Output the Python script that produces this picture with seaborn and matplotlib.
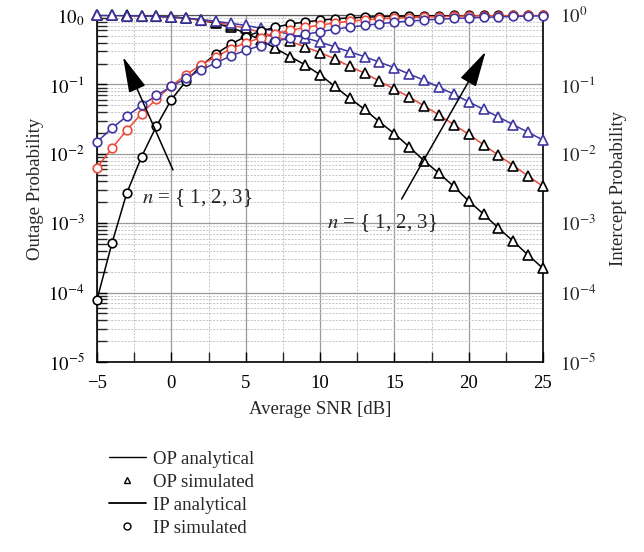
import numpy as np
import pandas as pd
import matplotlib
matplotlib.use("Agg")
import matplotlib.pyplot as plt
from matplotlib.lines import Line2D
from matplotlib.ticker import LogLocator, FixedLocator, NullFormatter, FixedFormatter
import seaborn as sns

snr_db = list(range(-5, 26))

op_n1 = [0.993, 0.991, 0.984, 0.975, 0.962, 0.938, 0.902, 0.841, 0.759, 0.661, 0.550,
         0.437, 0.331, 0.251, 0.191, 0.138, 0.0933, 0.0631, 0.0437, 0.0288, 0.0195,
         0.0126, 0.00794, 0.00525, 0.00339, 0.00209, 0.00135, 0.000851, 0.000550,
         0.000347, 0.000224]
op_n2 = [0.993, 0.989, 0.982, 0.971, 0.953, 0.927, 0.891, 0.841, 0.785, 0.716, 0.646,
         0.562, 0.490, 0.417, 0.347, 0.288, 0.234, 0.182, 0.145, 0.112, 0.0851,
         0.0661, 0.0490, 0.0363, 0.0263, 0.0191, 0.0135, 0.00955, 0.00676, 0.00479,
         0.00339]
op_n3 = [0.993, 0.989, 0.982, 0.971, 0.955, 0.933, 0.902, 0.861, 0.813, 0.759, 0.708,
         0.646, 0.589, 0.525, 0.468, 0.407, 0.347, 0.295, 0.251, 0.209, 0.174,
         0.141, 0.115, 0.0912, 0.0724, 0.0562, 0.0437, 0.0339, 0.0263, 0.0204, 0.0158]
ip_n1 = [7.9e-5, 5.1e-4, 2.7e-3, 9.1e-3, 0.0251, 0.0603, 0.112, 0.186, 0.275, 0.380,
         0.490, 0.582, 0.668, 0.741, 0.794, 0.841, 0.881, 0.908, 0.929, 0.946, 0.959,
         0.968, 0.975, 0.982, 0.986, 0.989, 0.991, 0.993, 0.994, 0.995, 0.997]
ip_n2 = [0.00631, 0.0120, 0.0219, 0.0380, 0.0617, 0.0955, 0.138, 0.191, 0.251, 0.324,
         0.398, 0.468, 0.537, 0.603, 0.661, 0.716, 0.767, 0.813, 0.851, 0.881, 0.902,
         0.920, 0.935, 0.948, 0.959, 0.968, 0.975, 0.979, 0.984, 0.989, 0.991]
ip_n3 = [0.0148, 0.0234, 0.0347, 0.0501, 0.0692, 0.0933, 0.123, 0.162, 0.204, 0.257,
         0.309, 0.363, 0.417, 0.468, 0.525, 0.575, 0.624, 0.668, 0.708, 0.750, 0.785,
         0.817, 0.845, 0.871, 0.891, 0.910, 0.925, 0.940, 0.953, 0.964, 0.973]

x_ticks = [-5, 0, 5, 10, 15, 20, 25]
x_tick_labels = ["\u22125", "0", "5", "10", "15", "20", "25"]
y_ticks = [1e-5, 1e-4, 1e-3, 1e-2, 1e-1, 1e0]
y_left_labels = ["$10^{-5}$", "$10^{-4}$", "$10^{-3}$", "$10^{-2}$", "$10^{-1}$", "$10_0$"]
y_right_labels = ["$10^{-5}$", "$10^{-4}$", "$10^{-3}$", "$10^{-2}$", "$10^{-1}$", "$10^0$"]
legend_labels = ["OP analytical", "OP simulated", "IP analytical", "IP simulated"]
annot_text = "$n$ = { 1, 2, 3}"

RED = "#ee4a3a"
BLUE = "#3f35a2"

sns.set_style("white")
plt.rcParams["font.family"] = ["Liberation Serif", "DejaVu Serif"]
plt.rcParams["mathtext.fontset"] = "stix"

fig = plt.figure(figsize=(6.44, 5.52), dpi=100)
ax = fig.add_axes([97 / 644, 1 - 362 / 552, (543 - 97) / 644, (362 - 15) / 552])

series = [
    ("OP n1", op_n1, "black", "black", "^", 6.8),
    ("OP n2", op_n2, RED, "black", "^", 6.8),
    ("OP n3", op_n3, BLUE, BLUE, "^", 6.8),
    ("IP n1", ip_n1, "black", "black", "o", 6.2),
    ("IP n2", ip_n2, RED, RED, "o", 6.2),
    ("IP n3", ip_n3, BLUE, BLUE, "o", 6.2),
]
for name, vals, lc, mc, mk, ms in series:
    df = pd.DataFrame({"snr": snr_db, "p": vals})
    sns.lineplot(data=df, x="snr", y="p", ax=ax, color=lc, lw=1.1, zorder=3,
                 legend=False, linestyle="-")
    ax.plot(df["snr"], df["p"], linestyle="none", marker=mk, ms=ms,
            mfc="white", mec=mc, mew=1.2, zorder=4, clip_on=False)

ax.set_yscale("log")
ax.set_xlim(-5, 25)
ax.set_ylim(1e-5, 1e0)

ax.xaxis.set_major_locator(FixedLocator(x_ticks))
ax.xaxis.set_major_formatter(FixedFormatter(x_tick_labels))
ax.xaxis.set_minor_locator(FixedLocator([-2.5, 2.5, 7.5, 12.5, 17.5, 22.5]))
ax.yaxis.set_major_locator(FixedLocator(y_ticks))
ax.yaxis.set_major_formatter(FixedFormatter(y_left_labels))
ax.yaxis.set_minor_locator(LogLocator(base=10, subs=np.arange(2, 10), numticks=20))
ax.yaxis.set_minor_formatter(NullFormatter())

ax.grid(which="major", color="#9a9a9a", lw=0.9, ls="-")
ax.grid(which="minor", color="#c4c4c4", lw=0.7, ls=(0, (2, 1.5)))
ax.set_axisbelow(True)

ax.tick_params(axis="both", which="major", direction="in", length=7, width=1.0,
               labelsize=13.5, colors="black", left=True, bottom=True)
ax.tick_params(axis="both", which="minor", direction="in", length=7, width=1.0,
               left=True, bottom=True)
ax.tick_params(axis="y", pad=9)
ax.tick_params(axis="x", pad=9)

for s in ax.spines.values():
    s.set_color("black")
    s.set_linewidth(1.2)
ax.spines["top"].set_color("#555555")
ax.spines["top"].set_linewidth(0.9)

ax.set_xlabel("Average SNR [dB]", fontsize=13.5, labelpad=7)
ax.set_ylabel("Outage Probability", fontsize=13.5, labelpad=3)

ax2 = ax.twinx()
ax2.set_yscale("log")
ax2.set_ylim(1e-5, 1e0)
ax2.yaxis.set_major_locator(FixedLocator(y_ticks))
ax2.yaxis.set_major_formatter(FixedFormatter(y_right_labels))
ax2.yaxis.set_minor_formatter(NullFormatter())
ax2.tick_params(axis="y", which="both", length=0, labelsize=13.5, pad=12)
ax2.set_ylabel("Intercept Probability", fontsize=13.5, labelpad=10)
for s in ax2.spines.values():
    s.set_visible(False)

arrow_kw = dict(arrowstyle="-|>,head_length=1.6,head_width=0.4", color="black",
                lw=1.1, shrinkA=0, shrinkB=0, mutation_scale=14)
ax.annotate("", xy=(-3.25, 0.248), xytext=(0.11, 0.00585), arrowprops=arrow_kw,
            zorder=5)
ax.annotate("", xy=(21.14, 0.296), xytext=(15.49, 0.00223), arrowprops=arrow_kw,
            zorder=5)
ax.text(-1.95, 0.00231, annot_text, fontsize=15, va="center", ha="left", zorder=5)
ax.text(10.5, 0.00101, annot_text, fontsize=15, va="center", ha="left", zorder=5)

handles = [
    Line2D([], [], color="black", lw=1.0),
    Line2D([], [], color="black", ls="none", marker="^", ms=5, mfc="white", mew=1.0),
    Line2D([], [], color="black", lw=1.3),
    Line2D([], [], color="black", ls="none", marker="o", ms=5, mfc="white", mew=1.0),
]
fig.legend(handles, legend_labels, loc="upper left", bbox_to_anchor=(101 / 644, 1 - 443 / 552),
           frameon=False, fontsize=13.5, handlelength=2.0, handletextpad=0.35,
           labelspacing=0.32, borderaxespad=0)

fig.savefig("out.png", dpi=100)
